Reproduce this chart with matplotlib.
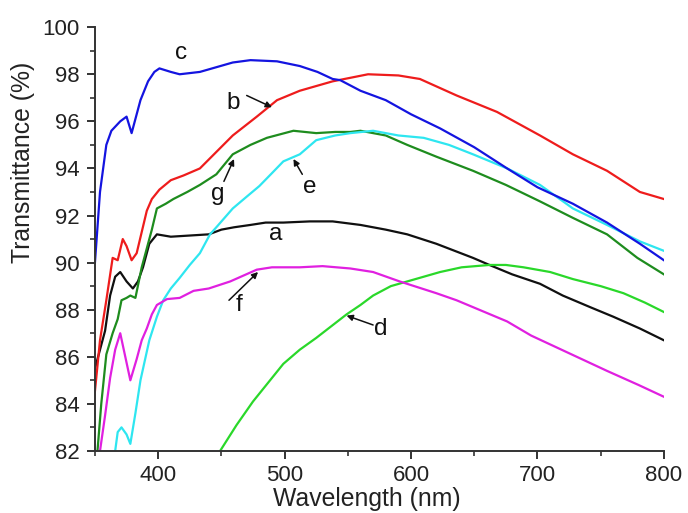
import matplotlib
matplotlib.use('Agg')
import matplotlib.pyplot as plt
from matplotlib.ticker import MultipleLocator

plt.rcParams['font.family'] = ['Liberation Sans', 'DejaVu Sans']

# Transmittance spectra of the seven samples (wavelength in nm, T in %)
wl_a = [350, 354, 358, 362, 366, 370, 375, 380, 384, 388, 393, 399, 410, 425, 440, 450,
        460, 473, 485, 499, 520, 538, 560, 580, 597, 620, 649, 662, 680, 702, 720, 742,
        760, 781, 800]
t_a = [85.5, 86.3, 87.1, 88.6, 89.4, 89.6, 89.2, 88.9, 89.2, 89.8, 90.8, 91.2, 91.1, 91.15,
       91.2, 91.4, 91.5, 91.6, 91.7, 91.7, 91.75, 91.75, 91.6, 91.4, 91.2, 90.8, 90.2, 89.9,
       89.5, 89.1, 88.6, 88.1, 87.7, 87.2, 86.7]

wl_b = [349, 354, 359, 364, 368, 372, 375, 379, 383, 387, 391, 395, 401, 410, 420, 433,
        446, 459, 478, 494, 512, 538, 566, 590, 607, 636, 668, 702, 728, 755, 781, 800]
t_b = [84.0, 86.7, 88.4, 90.2, 90.1, 91.0, 90.7, 90.1, 90.4, 91.3, 92.2, 92.7, 93.1, 93.5,
       93.7, 94.0, 94.7, 95.4, 96.2, 96.9, 97.3, 97.7, 98.0, 97.95, 97.8, 97.1, 96.4, 95.4,
       94.6, 93.9, 93.0, 92.7]

wl_c = [350, 354, 359, 363, 370, 375, 379, 386, 392, 397, 401, 410, 417, 433, 446, 459,
        473, 494, 512, 526, 538, 544, 560, 580, 600, 623, 650, 676, 700, 728, 755, 781, 800]
t_c = [90.0, 93.0, 95.0, 95.6, 96.0, 96.2, 95.5, 96.9, 97.7, 98.1, 98.25, 98.1, 98.0, 98.1,
       98.3, 98.5, 98.6, 98.55, 98.35, 98.1, 97.8, 97.75, 97.3, 96.9, 96.3, 95.7, 94.9, 94.0,
       93.2, 92.5, 91.7, 90.8, 90.1]

wl_d = [449, 462, 475, 487, 499, 512, 525, 537, 549, 560, 570, 584, 597, 610, 623, 640,
        662, 675, 689, 710, 728, 750, 768, 785, 800]
t_d = [82.0, 83.1, 84.1, 84.9, 85.7, 86.3, 86.8, 87.3, 87.8, 88.2, 88.6, 89.0, 89.2, 89.4,
       89.6, 89.8, 89.9, 89.9, 89.8, 89.6, 89.3, 89.0, 88.7, 88.3, 87.9]

wl_e = [366, 368, 371, 375, 378, 382, 386, 393, 399, 404, 410, 417, 425, 433, 441, 446,
        459, 470, 480, 490, 499, 512, 525, 540, 552, 570, 590, 610, 630, 649, 676, 702,
        728, 755, 781, 800]
t_e = [82.0, 82.8, 83.0, 82.7, 82.3, 83.6, 85.0, 86.7, 87.7, 88.4, 88.9, 89.35, 89.9, 90.4,
       91.2, 91.5, 92.3, 92.8, 93.25, 93.8, 94.3, 94.6, 95.2, 95.4, 95.5, 95.6, 95.4, 95.3,
       95.0, 94.6, 94.0, 93.3, 92.3, 91.6, 90.9, 90.5]

wl_f = [354, 358, 362, 366, 370, 374, 378, 383, 387, 391, 395, 399, 407, 417, 428, 440,
        457, 478, 490, 512, 530, 552, 570, 591, 620, 636, 656, 676, 695, 715, 735, 755,
        780, 800]
t_f = [82.0, 83.5, 85.1, 86.3, 87.0, 86.0, 85.0, 85.9, 86.7, 87.2, 87.8, 88.2, 88.45, 88.5,
       88.8, 88.9, 89.2, 89.7, 89.8, 89.8, 89.85, 89.75, 89.6, 89.2, 88.7, 88.4, 87.95, 87.5,
       86.9, 86.4, 85.9, 85.4, 84.8, 84.3]

wl_g = [352, 355, 359, 364, 368, 371, 375, 378, 382, 387, 391, 395, 399, 406, 412, 423,
        433, 446, 459, 473, 486, 507, 525, 540, 552, 560, 580, 597, 620, 649, 675, 702,
        728, 755, 779, 800]
t_g = [82.0, 84.0, 86.1, 87.0, 87.6, 88.4, 88.5, 88.6, 88.5, 89.8, 90.6, 91.4, 92.3, 92.5,
       92.7, 93.0, 93.3, 93.75, 94.6, 95.0, 95.3, 95.6, 95.5, 95.55, 95.55, 95.6, 95.4, 95.0,
       94.5, 93.9, 93.3, 92.6, 91.9, 91.2, 90.2, 89.5]

fig = plt.figure(figsize=(6.88, 5.13), dpi=100)
ax = fig.add_axes([0.138, 0.121, 0.827, 0.826])

lw = 1.6
ax.plot(wl_a, t_a, color='#101010', lw=lw)
ax.plot(wl_g, t_g, color='#1e8c1e', lw=lw)
ax.plot(wl_e, t_e, color='#2ee6f0', lw=lw)
ax.plot(wl_d, t_d, color='#2ad82a', lw=lw)
ax.plot(wl_f, t_f, color='#e020e0', lw=lw)
ax.plot(wl_b, t_b, color='#ee1c1c', lw=lw)
ax.plot(wl_c, t_c, color='#1414e0', lw=lw)

ax.set_xlim(350, 800)
ax.set_ylim(82, 100)
ax.xaxis.set_major_locator(MultipleLocator(100))
ax.xaxis.set_minor_locator(MultipleLocator(50))
ax.yaxis.set_major_locator(MultipleLocator(2))
ax.yaxis.set_minor_locator(MultipleLocator(1))
ax.spines['top'].set_visible(False)
ax.spines['right'].set_visible(False)
for s in ('left', 'bottom'):
    ax.spines[s].set_linewidth(1.4)
    ax.spines[s].set_color('#333333')
ax.tick_params(which='major', direction='out', length=6, width=1.4, labelsize=16,
               colors='#333333', labelcolor='#222222')
ax.tick_params(which='minor', direction='out', length=3.5, width=1.2, colors='#333333')
ax.tick_params(axis='y', pad=5)
ax.tick_params(axis='x', pad=4)

ax.set_xlabel('Wavelength (nm)', fontsize=17.8, color='#222222')
ax.set_ylabel('Transmittance (%)', fontsize=17.8, color='#222222')
ax.xaxis.set_label_coords(0.478, -0.086)
ax.yaxis.set_label_coords(-0.106, 0.68)

# curve labels with their pointer arrows
labels = ['a', 'b', 'c', 'd', 'e', 'f', 'g']
label_pos = [(493, 91.2), (459, 96.8), (418, 98.9), (576, 87.2), (520, 93.2), (464, 88.2),
             (447, 92.9)]
arrow_tails = [None, (470, 97.1), None, (570, 87.35), (514, 93.75), (456, 88.4),
               (452, 93.45)]
arrow_heads = [None, (490, 96.6), None, (549, 87.75), (507, 94.4), (479, 89.6),
               (460, 94.4)]
for lab, pos, tail, head in zip(labels, label_pos, arrow_tails, arrow_heads):
    ax.text(pos[0], pos[1], lab, fontsize=17.5, ha='center', va='center', color='#111111')
    if tail is not None:
        ax.annotate('', xy=head, xytext=tail,
                    arrowprops=dict(arrowstyle='-|>', color='#111111', lw=1.1,
                                    mutation_scale=9, shrinkA=0, shrinkB=0))

fig.savefig('out.png', dpi=100)
